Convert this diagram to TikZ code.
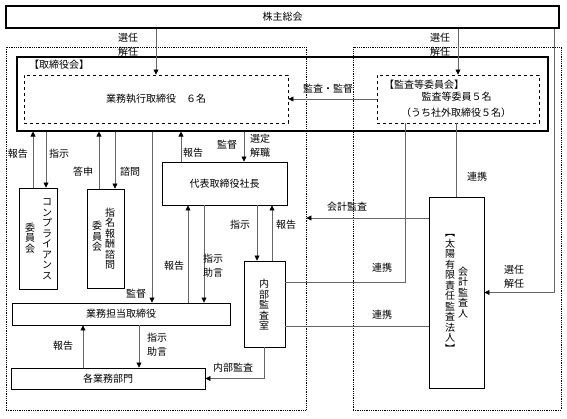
\documentclass[tikz,border=0pt]{standalone}
\usepackage{fontspec}
\setmainfont{Noto Sans CJK JP}
\usetikzlibrary{arrows.meta}

\tikzset{
  box/.style={draw,line width=0.9pt,inner sep=0pt},
  bigbox/.style={draw,line width=1.1pt,inner sep=0pt},
  dbox/.style={draw,dashed,line width=0.9pt,inner sep=0pt},
  area/.style={draw,densely dotted,line width=0.8pt,inner sep=0pt},
  con/.style={draw=black!60,line width=0.7pt},
  lbl/.style={inner sep=1pt,align=center,font=\fontsize{10}{14}\selectfont},
  tate/.style={inner sep=0pt,align=center,font=\fontsize{10}{10.5}\selectfont}
}

\begin{document}
\begin{tikzpicture}[x=1pt,y=-1pt,font=\fontsize{10}{12}\selectfont,
  >={Triangle[width=5pt,length=5pt,color=black]}]
\useasboundingbox (0,0) rectangle (567,418);

\node[area,minimum width=300pt,minimum height=363pt] (gyomu) at (156,228.5) {};
\node[area,minimum width=208pt,minimum height=363pt] (kansa) at (457,228.5) {};

\node[bigbox,minimum width=553pt,minimum height=22pt] (soukai) at (282.5,17) {株主総会};
\node[bigbox,minimum width=531pt,minimum height=74pt] (board) at (282.5,94) {};
\node[dbox,minimum width=264pt,minimum height=48pt] (exec) at (156,99) {業務執行取締役　６名};
\node[dbox,minimum width=162pt,minimum height=48pt] (audit) at (458,99) {};
\node[box,minimum width=125pt,minimum height=43pt] (pres) at (224.5,183.5) {代表取締役社長};
\node[box,minimum width=38pt,minimum height=101pt] (comp) at (38,238.5) {};
\node[box,minimum width=37pt,minimum height=99pt] (nomi) at (105.5,238.5) {};
\node[box,minimum width=41pt,minimum height=86pt] (naibu) at (264.5,304) {};
\node[box,minimum width=55pt,minimum height=191pt] (kaikei) at (456.5,292.5) {};
\node[box,minimum width=218pt,minimum height=22pt] (tanto) at (121,314) {業務担当取締役};
\node[box,minimum width=194pt,minimum height=21pt] (bumon) at (108,378.5) {各業務部門};

\node[lbl] (torilbl) at (59,65) {【取締役会】};
\node[lbl,anchor=west] (kanlbl) at (383,84.5) {【監査等委員会】};
\node[lbl] (kan1) at (456.5,97) {監査等委員５名};
\node[lbl] (kan2) at (456,112.5) {（うち社外取締役５名）};

\node[tate] (compA) at (47,239) {コ\\ン\\プ\\ラ\\イ\\ア\\ン\\ス};
\node[tate] (compB) at (30,238) {委\\員\\会};
\node[tate] (nomiA) at (110,238.5) {指\\名\\報\\酬\\諮\\問};
\node[tate] (nomiB) at (97,236.5) {委\\員\\会};
\node[tate] (naibuA) at (264,305) {内\\部\\監\\査\\室};
\node[tate] (kaikeiA) at (463,292.5) {会\\計\\監\\査\\人};
\node[tate] (kaikeiB) at (450,293.5) {︻\\太\\陽\\有\\限\\責\\任\\監\\査\\法\\人\\︼};

\draw[con,->] (soukai.south -| exec.north) -- (exec.north);
\draw[con,->] (soukai.south -| audit.north) -- (audit.north);
\draw[con,->] ([xshift=-5pt]soukai.south east) |- (kaikei.east);
\draw[con,->] (audit.west) -- (exec.east);
\draw[con] (audit.south -| kaikei.north) -- (kaikei.north);
\coordinate (renA) at ([xshift=-53pt]audit.south);
\draw[con] (renA) |- ([yshift=22pt]naibu.east);
\coordinate (renB) at ([yshift=-22pt]naibu.east);
\draw[con] (renB) -- (renB -| kaikei.west);
\coordinate (kaiA) at ([yshift=74.5pt]kaikei.west);
\draw[con,->] (kaiA) -- (kaiA -| gyomu.east);

\coordinate (c1) at ([xshift=-5pt]comp.north);
\coordinate (c2) at ([xshift=8pt]comp.north);
\coordinate (c3) at ([xshift=-6.5pt]nomi.north);
\coordinate (c4) at ([xshift=9.5pt]nomi.north);
\coordinate (c5) at ([xshift=-43.5pt]pres.north);
\coordinate (c6) at ([xshift=19.5pt]pres.north);
\coordinate (c7) at ([xshift=31pt]tanto.north);
\coordinate (c8) at ([xshift=67pt]tanto.north);
\coordinate (c9) at ([xshift=83pt]tanto.north);
\coordinate (c10) at ([xshift=-7.5pt]naibu.north);
\coordinate (c11) at ([xshift=7.5pt]naibu.north);
\coordinate (c12) at ([xshift=-25pt]bumon.north);
\coordinate (c13) at ([xshift=31pt]bumon.north);
\draw[con,->] (c1) -- (c1 |- board.south);
\draw[con,->] (c2 |- board.south) -- (c2);
\draw[con,->] (c3) -- (c3 |- board.south);
\draw[con,->] (c4 |- board.south) -- (c4);
\draw[con,->] (c5) -- (c5 |- board.south);
\draw[con,->] (c6 |- board.south) -- (c6);
\draw[con,->] (c7 |- board.south) -- (c7);
\draw[con,->] (c8) -- (c8 |- pres.south);
\draw[con,->] (c9 |- pres.south) -- (c9);
\draw[con,->] (c10 |- pres.south) -- (c10);
\draw[con,->] (c11) -- (c11 |- pres.south);
\draw[con,->] (c12) -- (c12 |- tanto.south);
\draw[con,->] (c13 |- tanto.south) -- (c13);
\draw[con,->] (naibu.south) |- (bumon.east);

\node[lbl] (sen1) at (128,45) {選任\\解任};
\node[lbl] (sen2) at (440,45) {選任\\解任};
\node[lbl] (sen3) at (514,277) {選任\\解任};
\node[lbl] (kankan) at (328,89) {監査・監督};
\node[lbl] (hou1) at (18,154) {報告};
\node[lbl] (shi1) at (59,154) {指示};
\node[lbl] (tou) at (83,172) {答申};
\node[lbl] (shimon) at (130,172) {諮問};
\node[lbl] (hou2) at (193,153) {報告};
\node[lbl] (kantoku1) at (227,145) {監督};
\node[lbl] (sentei) at (260,145.5) {選定\\解職};
\node[lbl] (kantoku2) at (136,294) {監督};
\node[lbl] (hou3) at (174,266) {報告};
\node[lbl] (shi2) at (213,265.5) {指示\\助言};
\node[lbl] (shi3) at (240,225) {指示};
\node[lbl] (hou4) at (286,225) {報告};
\node[lbl] (hou5) at (63,346) {報告};
\node[lbl] (shi4) at (157,345) {指示\\助言};
\node[lbl] (naibukansa) at (233,368) {内部監査};
\node[lbl] (ren1) at (477,177) {連携};
\node[lbl] (ren2) at (382,268) {連携};
\node[lbl] (ren3) at (382,315) {連携};
\node[lbl] (kaikeikansa) at (347,207) {会計監査};
\end{tikzpicture}
\end{document}
